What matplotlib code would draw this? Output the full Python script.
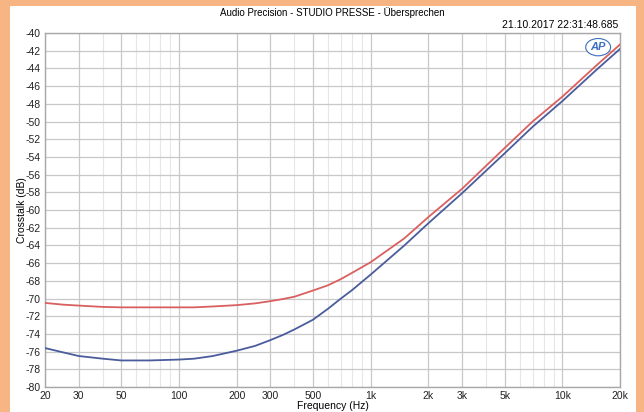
import numpy as np
import matplotlib
matplotlib.use("agg")
import matplotlib.pyplot as plt
from matplotlib.patches import Rectangle
from matplotlib.ticker import FixedLocator, NullFormatter

matplotlib.rcParams.update({"font.size": 7.5, "font.family": ["Liberation Sans", "DejaVu Sans"],
                            "axes.unicode_minus": False})

freq = [20, 25, 30, 40, 50, 60, 70, 100, 120, 150, 200, 250, 300, 350, 400, 500, 600, 700, 800,
        1000, 1500, 2000, 3000, 5000, 7000, 10000, 15000, 20000]
ch_red = [-70.5, -70.7, -70.8, -70.95, -71.0, -71.0, -71.0, -71.0, -71.0, -70.9, -70.75, -70.55, -70.3,
          -70.05, -69.8, -69.1, -68.5, -67.8, -67.1,
          -65.9, -63.2, -60.8, -57.6, -53.0, -50.0, -47.2, -43.7, -41.3]
ch_blue = [-75.6, -76.1, -76.5, -76.8, -77.0, -77.0, -77.0, -76.9, -76.8, -76.5, -75.9, -75.35, -74.7,
           -74.1, -73.5, -72.4, -71.15, -70.0, -69.05,
           -67.3, -64.0, -61.5, -58.1, -53.6, -50.6, -47.7, -44.2, -41.8]

xticks = [20, 30, 50, 100, 200, 300, 500, 1000, 2000, 3000, 5000, 10000, 20000]
xlabels = ["20", "30", "50", "100", "200", "300", "500", "1k", "2k", "3k", "5k", "10k", "20k"]
xminor = [40, 60, 70, 80, 90, 400, 600, 700, 800, 900, 4000, 6000, 7000, 8000, 9000]
yticks = list(range(-80, -39, 2))

W, H = 644, 412
fig = plt.figure(figsize=(W / 100, H / 100), dpi=100, facecolor="#F6B582")
bg = Rectangle((10 / W, 0), 626 / W, 406 / H, transform=fig.transFigure,
               facecolor="white", edgecolor="none", zorder=-5)
fig.add_artist(bg)

ax = fig.add_axes([45 / W, 1 - 387 / H, 575 / W, 354 / H])
ax.set_zorder(2)
ax.set_xscale("log")
ax.set_xlim(20, 20000)
ax.set_ylim(-80, -40)

ax.xaxis.set_major_locator(FixedLocator(xticks))
ax.set_xticklabels(xlabels)
ax.xaxis.set_minor_locator(FixedLocator(xminor))
ax.xaxis.set_minor_formatter(NullFormatter())
ax.set_yticks(yticks)
ax.tick_params(which="both", length=0, pad=3, colors="#222222")

ax.grid(which="major", color="#c8c8c8", lw=0.9)
ax.grid(which="minor", axis="x", color="#e6e6e6", lw=0.8)
for s in ax.spines.values():
    s.set_color("#a8a8a8")
    s.set_linewidth(1.0)

ax.plot(freq, ch_red, color="#d9605f", lw=1.3, zorder=3)
ax.plot(freq, ch_blue, color="#4a5c9c", lw=1.3, zorder=3)

ax.set_ylabel("Crosstalk (dB)")
ax.yaxis.set_label_coords(-18 / 575, 0.5)
ax.set_xlabel("Frequency (Hz)")
ax.xaxis.set_label_coords(0.5, -14 / 354)
fig.text(332 / W, 1 - 13 / H, "Audio Precision - STUDIO PRESSE - Übersprechen",
         ha="center", va="center", fontsize=7)
fig.text(618 / W, 1 - 25 / H, "21.10.2017 22:31:48.685", ha="right", va="center", fontsize=7.5)
ax.text(0.962, 0.96, "AP", transform=ax.transAxes, ha="center", va="center",
        fontsize=8, fontweight="bold", style="italic", color="#3a6fc0",
        bbox=dict(boxstyle="ellipse,pad=0.1", fc="white", ec="#3a6fc0", lw=0.8))

fig.savefig("out.png", dpi=100, facecolor=fig.get_facecolor())
